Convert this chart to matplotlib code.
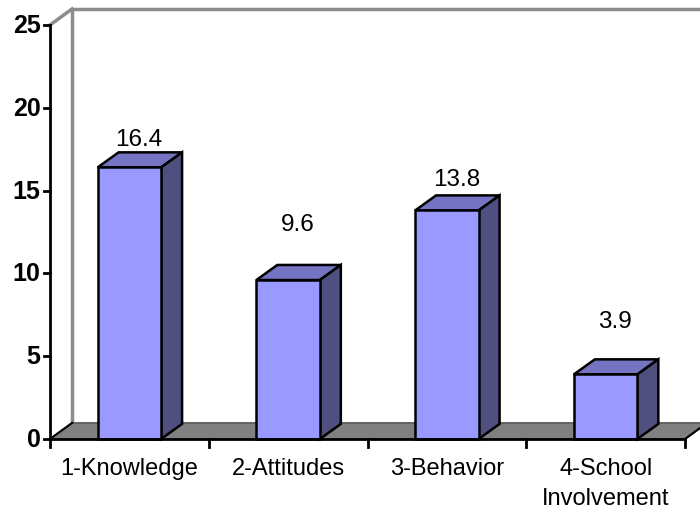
import numpy as np
import matplotlib.pyplot as plt
from matplotlib.patches import Polygon

categories = ["1-Knowledge", "2-Attitudes", "3-Behavior", "4-School\nInvolvement"]
values = [16.4, 9.6, 13.8, 3.9]
label_gap = [1.7, 3.4, 1.9, 3.2]
yticks = [0, 5, 10, 15, 20, 25]

plt.rcParams['font.family'] = ['Liberation Sans', 'DejaVu Sans']

fig = plt.figure(figsize=(7, 5.1), dpi=100)
ax = fig.add_axes([50 / 700, 70 / 510, 635 / 700, 414 / 510])
ax.set_xlim(-0.5, 3.5)
ax.set_ylim(0, 25)
ax.axis('off')

# depth offsets in data units (wall and bars)
dx, dy = 0.139, 0.97
bdx, bdy = 0.132, 0.91
w = 0.4

x = np.arange(len(values))

# back wall edges
ax.plot([-0.5 + dx, -0.5 + dx, 4.0], [dy, 25 + dy, 25 + dy], color='#8c8c8c', lw=2.5, clip_on=False, zorder=1)
ax.plot([-0.5, -0.5 + dx], [25, 25 + dy], color='#8c8c8c', lw=2.5, clip_on=False, zorder=1)

# floor
floor = Polygon([(-0.5, 0), (3.5, 0), (3.5 + dx, dy), (-0.5 + dx, dy)], closed=True,
                facecolor='#808080', edgecolor='#5a5a5a', lw=1.2, clip_on=False, zorder=2)
ax.add_patch(floor)
ax.plot([-0.5, -0.5 + dx], [0, dy], color='black', lw=1.5, clip_on=False, zorder=3)
ax.plot([3.5, 3.5 + dx], [0, dy], color='black', lw=1.5, clip_on=False, zorder=3)

# bars
ax.bar(x, values, width=w, color='#9999ff', edgecolor='black', lw=1.8, zorder=5, clip_on=False)
for xi, v, g in zip(x, values, label_gap):
    l, r = xi - w / 2, xi + w / 2
    top = Polygon([(l, v), (r, v), (r + bdx, v + bdy), (l + bdx, v + bdy)], closed=True,
                  facecolor='#7474c2', edgecolor='black', lw=1.8, zorder=4, clip_on=False)
    side = Polygon([(r, 0), (r, v), (r + bdx, v + bdy), (r + bdx, bdy)], closed=True,
                   facecolor='#4f4f80', edgecolor='black', lw=1.8, zorder=4, clip_on=False)
    ax.add_patch(top)
    ax.add_patch(side)
    ax.text(xi + 0.06, v + g, f"{v}", ha='center', va='center', fontsize=17.5)

# y axis
ax.plot([-0.5, -0.5], [0, 25], color='black', lw=2, clip_on=False, zorder=6)
for t in yticks:
    ax.plot([-0.54, -0.5], [t, t], color='black', lw=2, clip_on=False, zorder=6)
    ax.text(-0.56, t, str(t), ha='right', va='center', fontsize=18, fontweight='bold')

# x axis
ax.plot([-0.5, 3.5], [0, 0], color='black', lw=2, clip_on=False, zorder=6)
for b in np.arange(-0.5, 4.0, 1.0):
    ax.plot([b, b], [0, -0.5], color='black', lw=2, clip_on=False, zorder=6)
for xi, c in zip(x, categories):
    ax.text(xi, -1.1, c, ha='center', va='top', fontsize=17, linespacing=1.45)

fig.savefig("out.png", dpi=100)
